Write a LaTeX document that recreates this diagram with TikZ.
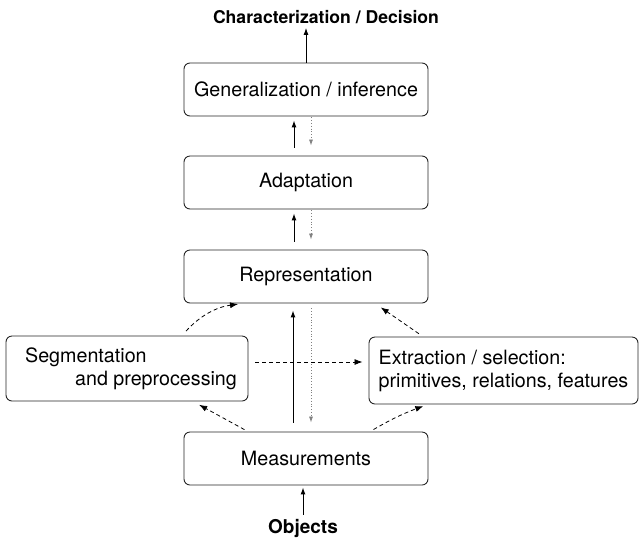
\documentclass[tikz,border=0pt]{standalone}
\usepackage{fontspec}
\setmainfont{TeX Gyre Heros}
\usetikzlibrary{arrows.meta}
\begin{document}
\begin{tikzpicture}[x=1pt,y=-1pt,
  box/.style={draw=black!85, line width=0.9pt, rounded corners=6pt, minimum width=244pt, minimum height=53pt, font=\fontsize{19.7}{23}\selectfont, inner sep=0pt},
  upar/.style={line width=1pt, -{Latex[length=7pt,width=5pt]}},
  dnar/.style={black!50, line width=0.8pt, dotted, -{Latex[length=6pt,width=4pt]}},
  dsar/.style={line width=0.8pt, dash pattern=on 4pt off 3pt, -{Latex[length=8pt,width=6pt]}},
  title/.style={font=\bfseries\fontsize{19}{21}\selectfont, inner sep=2pt}]
\useasboundingbox (0,0) rectangle (642,542);
\node[title, font=\bfseries\fontsize{17.6}{21}\selectfont] (char) at (326,17) {Characterization / Decision};
\node[box] (gen) at (306,89.5) {Generalization / inference};
\node[box] (ada) at (306,182.5) {Adaptation};
\node[box] (rep) at (306,276.5) {Representation};
\node[box, minimum width=242pt, minimum height=65pt, align=left] (seg) at (127,368.5) {\hspace*{8pt}Segmentation\\\hspace*{58pt}and preprocessing};
\node[box, minimum width=269pt, minimum height=67pt, align=left] (ext) at (503.5,370.5) {Extraction / selection:\\primitives, relations, features};
\node[title] (obj) at (303,528) {Objects};
\node[box] (meas) at (306,458.5) {Measurements};
% vertical solid / dotted
\draw[upar, shorten >=2pt] (gen.north) -- (gen.north |- char.south);
\draw[upar, shorten >=2pt, shorten <=2pt] (obj.north) -- (obj.north |- meas.south);
\draw[upar, shorten <=8pt, shorten >=4pt] ([xshift=-12pt]ada.north) -- ([xshift=-12pt]gen.south);
\draw[dnar, shorten <=1pt, shorten >=10pt] ([xshift=5pt]gen.south) -- ([xshift=5pt]ada.north);
\draw[upar, shorten <=8pt, shorten >=4pt] ([xshift=-12pt]rep.north) -- ([xshift=-12pt]ada.south);
\draw[dnar, shorten <=1pt, shorten >=10pt] ([xshift=5pt]ada.south) -- ([xshift=5pt]rep.north);
\draw[upar, shorten <=9pt, shorten >=7pt] ([xshift=-13pt]meas.north) -- ([xshift=-13pt]rep.south);
\draw[dnar, shorten <=5pt, shorten >=9pt] ([xshift=5pt]rep.south) -- ([xshift=5pt]meas.north);
% dashed
\draw[dsar, shorten <=6pt, shorten >=5pt] ([xshift=55pt]seg.north) to[bend left=20] ([xshift=-63pt]rep.south);
\draw[dsar, shorten <=5pt, shorten >=7pt] ([xshift=-80.5pt]ext.north) -- ([xshift=69pt]rep.south);
\draw[dsar, shorten <=4pt, shorten >=7pt] ([xshift=-58pt]meas.north) -- ([xshift=66pt]seg.south);
\draw[dsar, shorten <=4pt, shorten >=5pt] ([xshift=64pt]meas.north) to[bend left=5] ([xshift=-75.5pt]ext.south);
\draw[dsar, shorten <=7pt, shorten >=6pt] ([yshift=6.5pt]seg.east) -- ([yshift=6.5pt]seg.east -| ext.west);
\end{tikzpicture}
\end{document}
